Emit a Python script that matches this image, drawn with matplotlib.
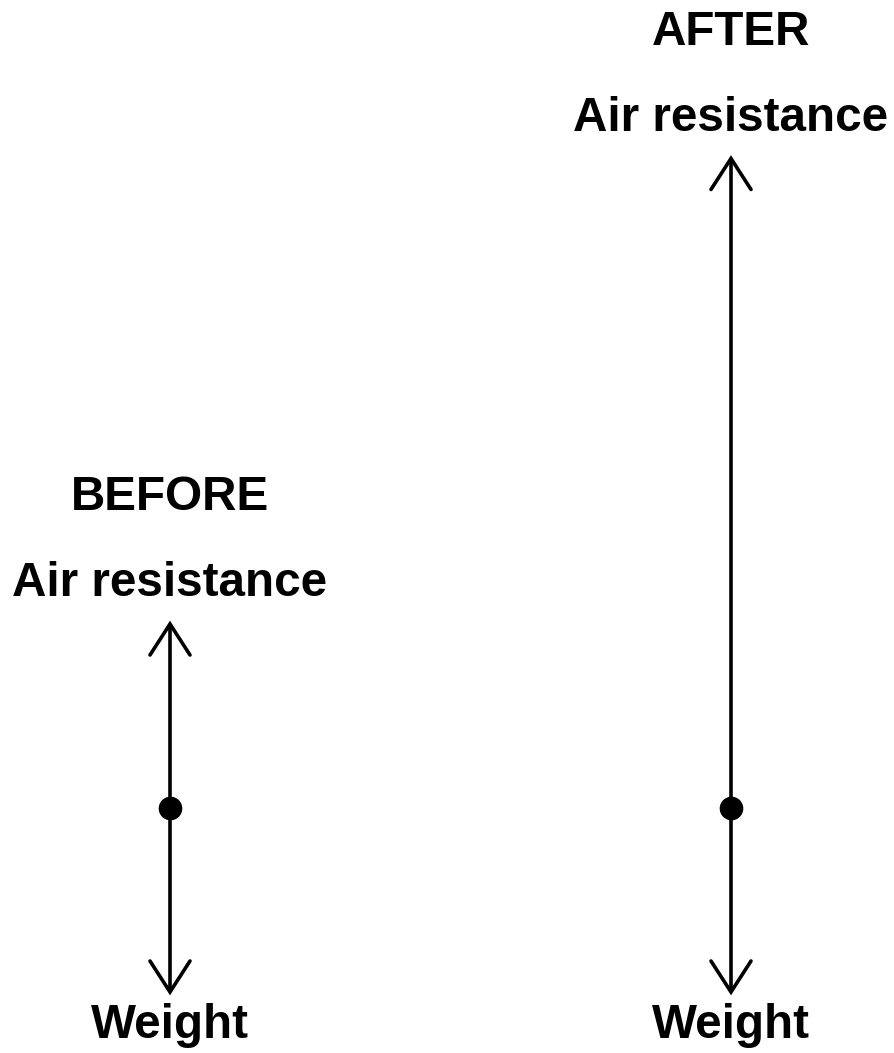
import matplotlib.pyplot as plt

# Force diagram data (force magnitudes in units of the weight)
panels = ['BEFORE', 'AFTER']
air_resistance = [1.0, 3.53]
weight = [1.0, 1.0]
up_label = 'Air resistance'
down_label = 'Weight'

# Layout (pixels)
W, H = 895, 1053
px_per_unit = 184
origin_y = 808
panel_x = [170, 731]
head_w = 20
head_l = 31
lw = 2.6

fig = plt.figure(figsize=(W / 100, H / 100), dpi=100)
ax = fig.add_axes([0, 0, 1, 1])
ax.set_xlim(0, W)
ax.set_ylim(H, 0)
ax.axis('off')

font = dict(family='Liberation Sans', fontweight='bold', fontsize=34.3,
            ha='center', va='center', color='black')


def arrow(x, y0, y1):
    # shaft plus two wing lines for an open arrowhead
    ax.plot([x, x], [y0, y1], color='black', lw=lw, solid_capstyle='butt')
    d = 1 if y1 > y0 else -1
    ax.plot([x - head_w, x, x + head_w], [y1 - d * head_l, y1, y1 - d * head_l],
            color='black', lw=lw, solid_capstyle='round', solid_joinstyle='miter')


for name, x, up, down in zip(panels, panel_x, air_resistance, weight):
    top = origin_y - up * px_per_unit
    bottom = origin_y + down * px_per_unit
    arrow(x, origin_y, top)
    arrow(x, origin_y, bottom)
    ax.plot(x, origin_y, 'o', color='black', markersize=16)
    ax.text(x, top - 40, up_label, **font)
    ax.text(x, top - 126, name, **font)
    ax.text(x, bottom + 34, down_label, **font)

fig.savefig('out.png', dpi=100, facecolor='white')
